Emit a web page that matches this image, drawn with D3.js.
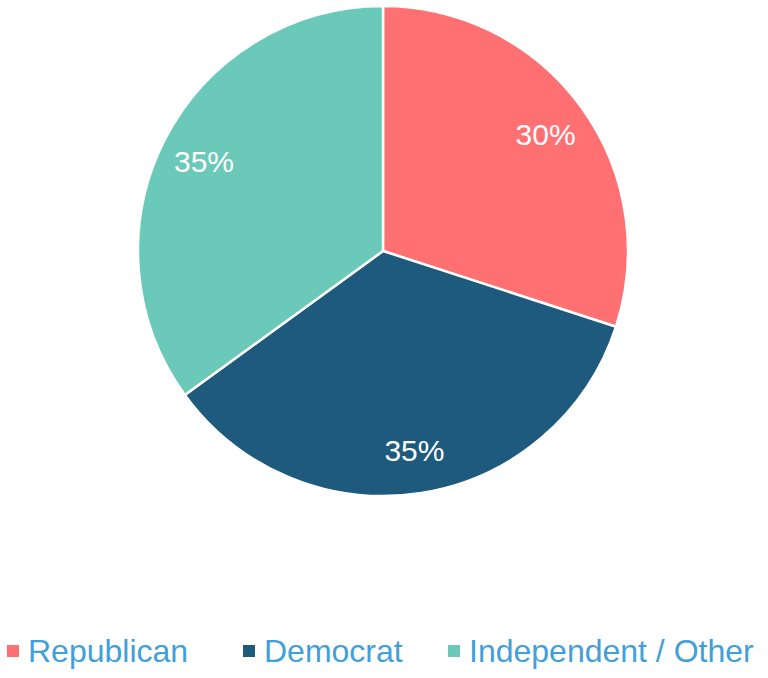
<!DOCTYPE html>
<html>
<head>
<meta charset="utf-8">
<script src="https://cdn.jsdelivr.net/npm/d3@7"></script>
<style>
  body { margin: 0; background: #fff; }
  svg { display: block; font-family: "Liberation Sans", Arial, sans-serif; }
</style>
</head>
<body>
<div id="chart"></div>
<script>
// Chart data
var categories = ["Republican", "Democrat", "Independent / Other"];
var shares = [30, 35, 35];
var colors = ["#ff7073", "#1d5a7e", "#6ac9b9"];

var width = 768, height = 678;
var cx = 383, cy = 251, radius = 245;

var svg = d3.select("#chart")
    .append("svg")
    .attr("width", width)
    .attr("height", height);

var data = categories.map(function(c, i) {
    return { name: c, value: shares[i], color: colors[i] };
});

var pie = d3.pie()
    .sort(null)
    .value(function(d) { return d.value; });

var arc = d3.arc()
    .innerRadius(0)
    .outerRadius(radius);

var labelArc = d3.arc()
    .innerRadius(radius * 0.82)
    .outerRadius(radius * 0.82);

var g = svg.append("g")
    .attr("transform", "translate(" + cx + "," + cy + ")");

var slices = g.selectAll(".slice")
    .data(pie(data))
    .enter()
    .append("g")
    .attr("class", "slice");

slices.append("path")
    .attr("d", arc)
    .attr("fill", function(d) { return d.data.color; })
    .attr("stroke", "#fff")
    .attr("stroke-width", 2.5)
    .attr("stroke-linejoin", "round");

slices.append("text")
    .attr("transform", function(d) { return "translate(" + labelArc.centroid(d) + ")"; })
    .attr("text-anchor", "middle")
    .attr("dy", "0.4em")
    .attr("fill", "#fff")
    .style("font-size", "30px")
    .text(function(d) { return d.data.value + "%"; });

// Legend (item offsets taken from the reference layout)
var legendX = [7, 243, 448];
var legend = svg.selectAll(".legend")
    .data(data)
    .enter()
    .append("g")
    .attr("class", "legend")
    .attr("transform", function(d, i) { return "translate(" + legendX[i] + ",651)"; });

legend.append("rect")
    .attr("x", 0)
    .attr("y", -6)
    .attr("width", 12)
    .attr("height", 12)
    .attr("fill", function(d) { return d.color; });

legend.append("text")
    .attr("x", 21)
    .attr("dy", "0.35em")
    .attr("fill", "#42a0d8")
    .style("font-size", "32px")
    .text(function(d) { return d.name; });
</script>
</body>
</html>
